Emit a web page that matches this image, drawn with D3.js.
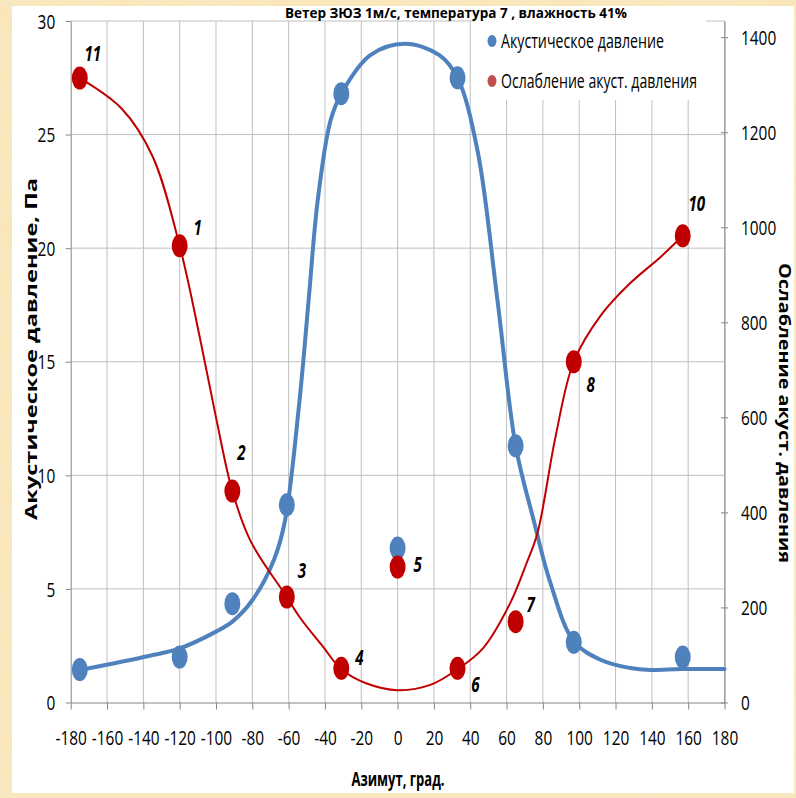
<!DOCTYPE html>
<html>
<head>
<meta charset="utf-8">
<script src="https://cdn.jsdelivr.net/npm/d3@7"></script>
<style>
  html, body { margin: 0; padding: 0; overflow: hidden; background: #f8e5b6; }
  svg { display: block; }
  text { font-family: "Open Sans", "DejaVu Sans", sans-serif; fill: #000; }
</style>
</head>
<body>
<svg id="chart" width="796" height="798"></svg>
<script>
// Measured points: azimuth (deg), acoustic pressure (Pa), attenuation of pressure
const azimuth     = [-175, -120, -91, -61, -31, 0, 33, 65, 97, 157];
const pressure    = [1.45, 2.0, 4.35, 8.7, 26.8, 6.8, 27.5, 11.3, 2.65, 2.0];
const attenuation = [1314, 961, 445, 222, 72, 285, 72, 170, 717, 982];
const pointNames  = ["11", "1", "2", "3", "4", "5", "6", "7", "8", "10"];

// Smoothed trend of the acoustic pressure
const pressureTrendAz  = [-175, -137, -120, -100, -91, -80, -68, -62, -54, -49, -44, -37, -31, -15, 4, 23, 33, 44, 55, 65, 75, 84, 97, 112, 128, 139, 156, 180];
const pressureTrendVal = [1.43, 2.05, 2.38, 3.12, 3.56, 4.5, 6.3, 8.0, 13.3, 17.7, 22.1, 25.6, 26.8, 28.5, 29.0, 28.5, 27.5, 24.3, 17.7, 11.3, 8.0, 5.3, 2.7, 1.87, 1.52, 1.43, 1.47, 1.47];

// Smoothed trend of the attenuation
const attenTrendAz  = [-175, -152, -135, -120, -109, -100, -91, -81, -61, -54, -41, -31, -17, 0, 18, 33, 47, 62, 71, 77, 87, 97, 112, 128, 145, 157];
const attenTrendVal = [1314, 1250, 1150, 961, 770, 600, 445, 340, 222, 180, 117, 70, 40, 26, 37, 70, 114, 209, 293, 356, 560, 717, 815, 882, 938, 982];

// Axis ticks
const azimuthTicks  = d3.range(-180, 181, 20);
const pressureTicks = [0, 5, 10, 15, 20, 25, 30];
const attenTicks    = [0, 200, 400, 600, 800, 1000, 1200, 1400];

const seriesNames = ["Акустическое давление", "Ослабление акуст. давления"];
const chartTitle  = "Ветер ЗЮЗ 1м/с, температура 7 , влажность 41%";
const xTitle      = "Азимут, град.";
const yLeftTitle  = "Акустическое давление, Па";
const yRightTitle = "Ослабление акуст. давления";

const W = 796, H = 798;
const BLUE = "#4f81bd", RED = "#c00000", RED_LEGEND = "#c0504d";
const GRID = "#bfbfbf", AXIS = "#868686";
const SQ = 0.77; // horizontal squeeze of the text

const svg = d3.select("#chart");
const defs = svg.append("defs");

// mottled paper behind the chart panel
const f = defs.append("filter").attr("id", "paper")
  .attr("x", 0).attr("y", 0).attr("width", "100%").attr("height", "100%");
f.append("feTurbulence").attr("type", "fractalNoise").attr("baseFrequency", 0.03)
  .attr("numOctaves", 3).attr("seed", 7).attr("result", "n");
f.append("feColorMatrix").attr("in", "n").attr("type", "matrix")
  .attr("values", "0 0 0 0 0.95  0 0 0 0 0.78  0 0 0 0 0.48  0 0 0 -2.4 1.45");

svg.append("rect").attr("width", W).attr("height", H).attr("fill", "#f9e8bf");
svg.append("rect").attr("width", W).attr("height", H).attr("fill", "#000").attr("filter", "url(#paper)");

const panel = { x: 12, y: 6, w: 782, h: 787 };
svg.append("rect").attr("x", panel.x).attr("y", panel.y)
  .attr("width", panel.w).attr("height", panel.h).attr("fill", "#fff");

const plot = { left: 70.7, right: 724.5, top: 21, bottom: 702.5 };
const x  = d3.scaleLinear().domain([-180, 180]).range([plot.left, plot.right]);
const yL = d3.scaleLinear().domain([0, 30]).range([plot.bottom, plot.top]);
const yR = d3.scaleLinear().domain([0, 1434]).range([plot.bottom, plot.top]);

// gridlines
const grid = svg.append("g").attr("stroke", GRID).attr("stroke-width", 1);
grid.selectAll(".v").data(azimuthTicks.slice(1)).join("line")
  .attr("x1", d => x(d)).attr("x2", d => x(d))
  .attr("y1", plot.top).attr("y2", plot.bottom);
grid.selectAll(".h").data(pressureTicks.slice(1)).join("line")
  .attr("x1", plot.left).attr("x2", plot.right)
  .attr("y1", d => yL(d)).attr("y2", d => yL(d));

function styleAxis(g) {
  g.select(".domain").attr("stroke", AXIS).attr("stroke-width", 1);
  g.selectAll(".tick line").attr("stroke", AXIS);
  g.selectAll(".tick text").attr("font-size", 20)
    .style("font-family", '"Open Sans", sans-serif').attr("fill", "#000");
}
// plain hyphen-minus, as in spreadsheet labels
const intFmt = d => String(d);

// x axis
const gx = svg.append("g").attr("transform", `translate(0,${plot.bottom})`)
  .call(d3.axisBottom(x).tickValues(azimuthTicks).tickSize(7).tickSizeOuter(0).tickFormat(intFmt));
styleAxis(gx);
gx.selectAll(".tick text").attr("y", 0).attr("dy", 0)
  .attr("transform", `translate(0,42) scale(${SQ},1)`);

// left axis
const gl = svg.append("g").attr("transform", `translate(${plot.left},0)`)
  .call(d3.axisLeft(yL).tickValues(pressureTicks).tickSize(5).tickSizeOuter(0).tickFormat(intFmt));
styleAxis(gl);
gl.selectAll(".tick text").attr("x", 0).attr("dy", "0.36em")
  .attr("transform", `translate(-15.5,0) scale(${SQ},1)`);

// right axis
const gr = svg.append("g").attr("transform", `translate(${plot.right},0)`)
  .call(d3.axisRight(yR).tickValues(attenTicks).tickSize(4).tickSizeOuter(0).tickFormat(intFmt));
styleAxis(gr);
gr.selectAll(".tick line").attr("x1", -3.5).attr("x2", 3.5);
gr.selectAll(".tick text").attr("x", 0).attr("dy", "0.36em")
  .attr("transform", `translate(16.5,0) scale(${SQ},1)`);

// trend curves
const pressureLine = d3.line().x(d => x(d[0])).y(d => yL(d[1])).curve(d3.curveCatmullRom.alpha(0.5));
const attenLine    = d3.line().x(d => x(d[0])).y(d => yR(d[1])).curve(d3.curveCatmullRom.alpha(0.5));

svg.append("path").datum(d3.zip(pressureTrendAz, pressureTrendVal))
  .attr("d", pressureLine).attr("fill", "none").attr("stroke", BLUE)
  .attr("stroke-width", 4).attr("stroke-linejoin", "round").attr("stroke-linecap", "round");
svg.append("path").datum(d3.zip(attenTrendAz, attenTrendVal))
  .attr("d", attenLine).attr("fill", "none").attr("stroke", RED)
  .attr("stroke-width", 2).attr("stroke-linejoin", "round");

// markers
svg.append("g").selectAll("ellipse").data(d3.zip(azimuth, pressure)).join("ellipse")
  .attr("cx", d => x(d[0])).attr("cy", d => yL(d[1]))
  .attr("rx", 8).attr("ry", 11.5).attr("fill", BLUE);
svg.append("g").selectAll("ellipse").data(d3.zip(azimuth, attenuation)).join("ellipse")
  .attr("cx", d => x(d[0])).attr("cy", d => yR(d[1]))
  .attr("rx", 8).attr("ry", 11.5).attr("fill", RED);

// point numbers next to the attenuation markers
const labelShift = [[13, -25], [18, -18], [9, -39], [15, -27], [18, -11], [20, -3], [18, 16], [15, -17], [17, 23], [14, -32]];
svg.append("g").selectAll("text").data(pointNames).join("text")
  .attr("transform", (d, i) => `translate(${x(azimuth[i]) + labelShift[i][0]},${yR(attenuation[i]) + labelShift[i][1]}) scale(0.72,1)`)
  .attr("text-anchor", "middle").attr("dy", "0.36em")
  .attr("font-size", 21).attr("font-weight", "bold").attr("font-style", "italic")
  .text(d => d);

// legend
const lg = svg.append("g");
lg.append("rect").attr("x", 474).attr("y", 19).attr("width", 232).attr("height", 81).attr("fill", "#fff");
const legendItems = [
  { name: seriesNames[0], color: BLUE, y: 41, len: 163 },
  { name: seriesNames[1], color: RED_LEGEND, y: 81, len: 196 }
];
legendItems.forEach(it => {
  lg.append("ellipse").attr("cx", 492).attr("cy", it.y).attr("rx", 4.5).attr("ry", 6).attr("fill", it.color);
  lg.append("text").attr("x", 501).attr("y", it.y).attr("dy", "0.36em")
    .attr("font-size", 20).attr("textLength", it.len).attr("lengthAdjust", "spacingAndGlyphs")
    .text(it.name);
});

// titles
svg.append("text")
  .attr("x", 285).attr("y", 17.5).attr("font-size", 15).attr("font-weight", "bold")
  .attr("textLength", 342).attr("lengthAdjust", "spacingAndGlyphs")
  .text(chartTitle);

svg.append("text").attr("x", 398).attr("y", 779).attr("dy", "0.36em")
  .attr("text-anchor", "middle").attr("font-size", 19).attr("font-weight", "bold")
  .attr("textLength", 93).attr("lengthAdjust", "spacingAndGlyphs")
  .text(xTitle);

svg.append("g").attr("transform", `translate(31,349) scale(0.75,1) rotate(-90)`)
  .append("text").attr("text-anchor", "middle").attr("dy", "0.36em")
  .attr("font-size", 22).attr("font-weight", "bold")
  .attr("textLength", 342).attr("lengthAdjust", "spacingAndGlyphs")
  .text(yLeftTitle);

svg.append("g").attr("transform", `translate(785,413) scale(0.75,1) rotate(90)`)
  .append("text").attr("text-anchor", "middle").attr("dy", "0.36em")
  .attr("font-size", 21).attr("font-weight", "bold")
  .attr("textLength", 300).attr("lengthAdjust", "spacingAndGlyphs")
  .text(yRightTitle);
</script>
</body>
</html>
